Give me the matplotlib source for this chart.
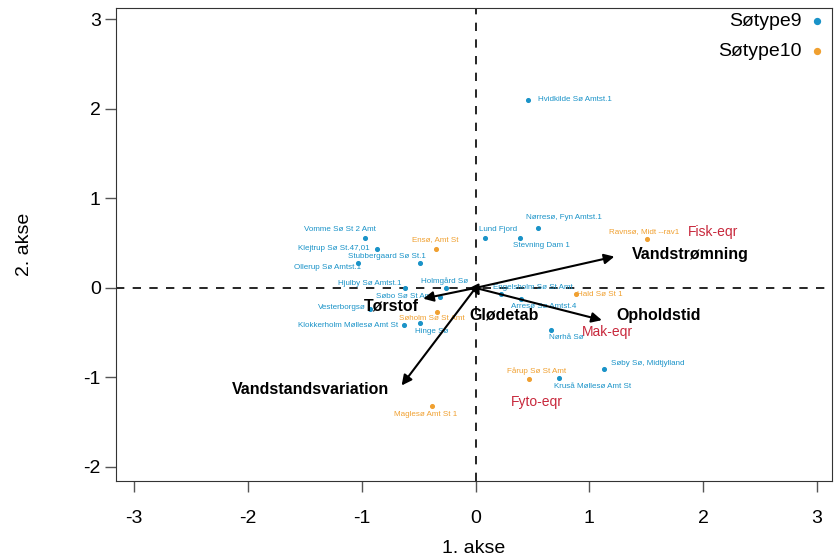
import matplotlib
matplotlib.use("Agg")
import matplotlib.pyplot as plt

plt.rcParams['font.family'] = ['Liberation Sans', 'DejaVu Sans']
plt.rcParams['axes.unicode_minus'] = False

# søer af type 9 (blå)
navne9 = ["Hvidkilde Sø Amtst.1", "Nørresø, Fyn Amtst.1", "Lund Fjord", "Stevning Dam 1",
          "Vomme Sø St 2 Amt", "Klejtrup Sø St.47,01", "Stubbergaard Sø St.1", "Ollerup Sø Amtst.1",
          "Hjulby Sø Amtst.1", "Holmgård Sø", "Søbo Sø St Amt", "Vesterborgsø",
          "Klokkerholm Møllesø Amt St", "Hinge Sø", "Engelsholm Sø St Amt", "Arresø Sø Amtst.4",
          "Nørhå Sø", "Søby Sø, Midtjylland", "Kruså Møllesø Amt St"]
x9 = [0.46, 0.55, 0.08, 0.39, -0.97, -0.87, -0.49, -1.03, -0.62, -0.26, -0.31, -0.93,
      -0.63, -0.49, 0.22, 0.40, 0.66, 1.13, 0.73]
y9 = [2.10, 0.67, 0.56, 0.56, 0.56, 0.44, 0.28, 0.28, 0.00, 0.00, -0.10, -0.23,
      -0.41, -0.39, -0.07, -0.12, -0.47, -0.91, -1.01]

# søer af type 10 (orange)
navne10 = ["Ensø, Amt St", "Søholm Sø St Amt", "Ravnsø, Midt --rav1", "Hald Sø St 1",
           "Fårup Sø St Amt", "Maglesø Amt St 1"]
x10 = [-0.35, -0.34, 1.51, 0.88, 0.47, -0.38]
y10 = [0.44, -0.27, 0.55, -0.07, -1.02, -1.32]

# miljøvariable (pile)
variable = ["Vandstrømning", "Opholdstid", "Vandstandsvariation", "Tørstof", "Glødetab"]
var_x = [1.22, 1.11, -0.65, -0.46, 0.035]
var_y = [0.35, -0.36, -1.09, -0.12, -0.09]

# eqr-variable (røde tekster)
eqr = ["Fisk-eqr", "Mak-eqr", "Fyto-eqr"]
eqr_x = [2.09, 1.16, 0.54]
eqr_y = [0.63, -0.49, -1.27]

# placering af etiketter (pixels i forhold til punktet)
off9 = [(47, 0), (26, 10), (13, 8), (21, -8), (-25, 8), (-43, 0), (-33, 6), (-31, -5),
        (-35, 4), (-1, 7), (-36, 0), (-28, 1), (-56, -1), (12, -9), (32, 7), (23, -8),
        (16, -8), (44, 6), (34, -8)]
off10 = [(-1, 9), (-5, -6), (-3, 7), (24, 0), (8, 8), (-7, -8)]
var_lab = [(1.89, 0.37), (1.61, -0.31), (-1.45, -1.14), (-0.74, -0.20), (0.25, -0.30)]

blaa = "#1a93c8"
orange = "#f0a030"
roed = "#c8283c"

fig = plt.figure(figsize=(8.35, 5.57), dpi=100)
ax = fig.add_axes([0.139, 0.136, 0.857, 0.850])

ax.axhline(0, color="black", ls=(0, (5, 5)), lw=1.2, zorder=1)
ax.axvline(0, color="black", ls=(0, (5, 5)), lw=1.2, zorder=1)

ax.scatter(x9, y9, s=7, color=blaa, zorder=3, label="Søtype9")
ax.scatter(x10, y10, s=7, color=orange, zorder=3, label="Søtype10")

for navn, x, y, o in zip(navne9, x9, y9, off9):
    ax.annotate(navn, (x, y), xytext=o, textcoords="offset pixels", ha="center",
                va="center", fontsize=5.8, color=blaa)
for navn, x, y, o in zip(navne10, x10, y10, off10):
    ax.annotate(navn, (x, y), xytext=o, textcoords="offset pixels", ha="center",
                va="center", fontsize=5.8, color=orange)

# pile
for navn, x, y, (lx, ly) in zip(variable, var_x, var_y, var_lab):
    ax.annotate("", xy=(x, y), xytext=(0, 0),
                arrowprops=dict(arrowstyle="-|>", color="black", lw=1.5,
                                mutation_scale=15, shrinkA=0, shrinkB=0), zorder=4)
    ax.text(lx, ly, navn, ha="center", va="center", fontsize=11.5,
            fontweight="bold", zorder=5)

for navn, x, y in zip(eqr, eqr_x, eqr_y):
    ax.text(x, y, navn, ha="center", va="center", fontsize=10, color=roed)

ax.set_xlim(-3.16, 3.13)
ax.set_ylim(-2.16, 3.13)
ax.set_xticks([-3, -2, -1, 0, 1, 2, 3])
ax.set_yticks([-2, -1, 0, 1, 2, 3])
ax.tick_params(direction="out", length=8, width=1, color="#555555", labelsize=14)
ax.tick_params(axis="x", pad=13)
ax.tick_params(axis="y", pad=3)
for s in ax.spines.values():
    s.set_color("#333333")

ax.set_xlabel("1. akse", fontsize=14, labelpad=9)
ax.set_ylabel("2. akse", fontsize=14, labelpad=36)

ax.legend(loc="upper right", bbox_to_anchor=(1.004, 1.01), frameon=False, markerfirst=False,
          fontsize=14, handletextpad=0.4, handlelength=0.8, borderaxespad=0.1,
          labelspacing=0.6, markerscale=1.6)

fig.savefig("out.png", dpi=100)
